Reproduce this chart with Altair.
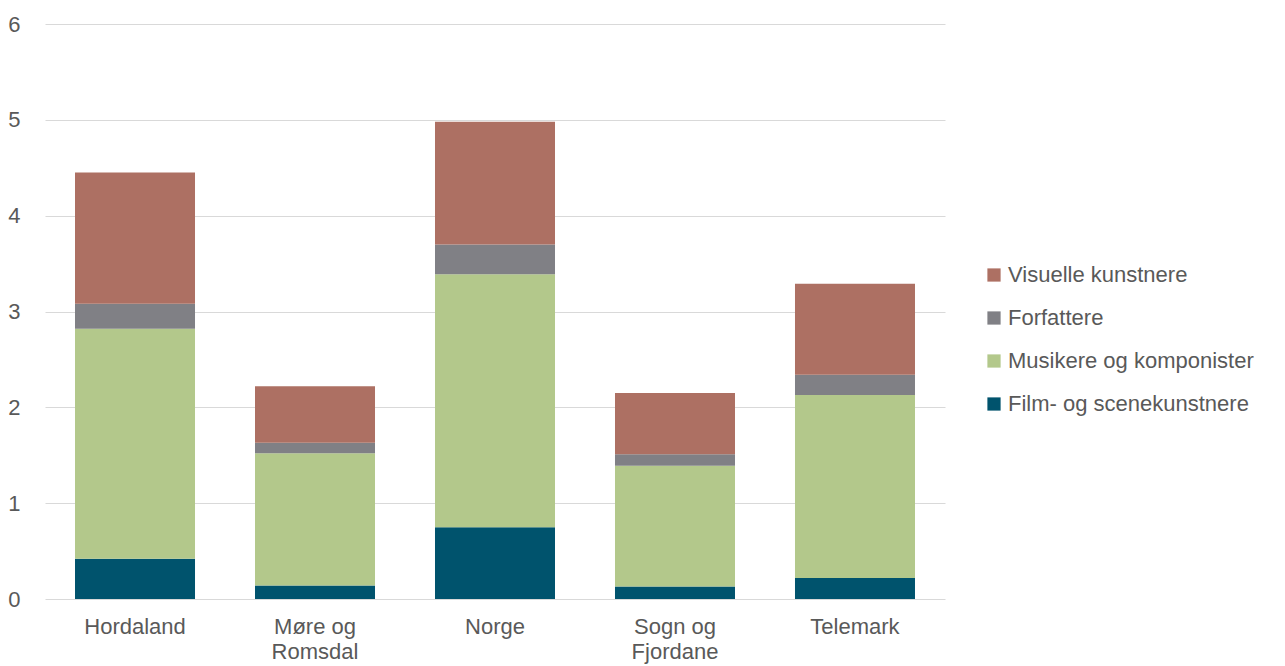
import altair as alt
import pandas as pd

regions = ["Hordaland", "Møre og Romsdal", "Norge", "Sogn og Fjordane", "Telemark"]
film = [0.42, 0.14, 0.75, 0.13, 0.22]
musikere = [2.40, 1.38, 2.64, 1.26, 1.91]
forfattere = [0.26, 0.11, 0.31, 0.12, 0.21]
visuelle = [1.37, 0.59, 1.28, 0.64, 0.95]

series_names = ["Film- og scenekunstnere", "Musikere og komponister", "Forfattere", "Visuelle kunstnere"]
series_values = [film, musikere, forfattere, visuelle]
legend_order = ["Visuelle kunstnere", "Forfattere", "Musikere og komponister", "Film- og scenekunstnere"]
colors = ["#AD7063", "#808085", "#B3C88B", "#00536D"]

rows = []
for s_i, (name, vals) in enumerate(zip(series_names, series_values)):
    for r, v in zip(regions, vals):
        rows.append({"region": r, "serie": name, "value": v, "rank": s_i})
df = pd.DataFrame(rows)

font = "Liberation Sans"
label_color = "#595959"
fs = 22

label_expr = ("datum.value == 'Møre og Romsdal' ? ['Møre og', 'Romsdal'] : "
              "datum.value == 'Sogn og Fjordane' ? ['Sogn og', 'Fjordane'] : datum.label")

chart = alt.Chart(df).mark_bar().encode(
    x=alt.X("region:N", sort=regions, title=None,
            scale=alt.Scale(paddingInner=0.3333, paddingOuter=0.1667),
            axis=alt.Axis(labelAngle=0, labelExpr=label_expr, ticks=False, domain=False,
                          labelPadding=17, labelFontSize=fs, labelFont=font,
                          labelColor=label_color, labelLineHeight=25, grid=False)),
    y=alt.Y("value:Q", stack="zero", title=None,
            scale=alt.Scale(domain=[0, 6], nice=False),
            axis=alt.Axis(values=[0, 1, 2, 3, 4, 5, 6], ticks=False, domain=False,
                          labelPadding=25, labelFontSize=fs, labelFont=font,
                          labelColor=label_color, gridColor="#D9D9D9", gridWidth=1)),
    color=alt.Color("serie:N", scale=alt.Scale(domain=legend_order, range=colors),
                    legend=alt.Legend(title=None, orient="none", legendX=938, legendY=240,
                                      symbolType="square", symbolSize=175, symbolStrokeWidth=0,
                                      labelFontSize=fs, labelFont=font, labelColor=label_color,
                                      labelLimit=0, rowPadding=21, labelOffset=3, symbolOffset=0)),
    order=alt.Order("rank:Q", sort="ascending"),
).properties(
    width=900, height=575,
    autosize=alt.AutoSizeParams(type="none"),
    padding={"left": 37, "top": 16, "right": 330, "bottom": 66},
).configure_view(stroke=None)

chart.save("out.html", embed_options={"renderer": "svg", "actions": False})
